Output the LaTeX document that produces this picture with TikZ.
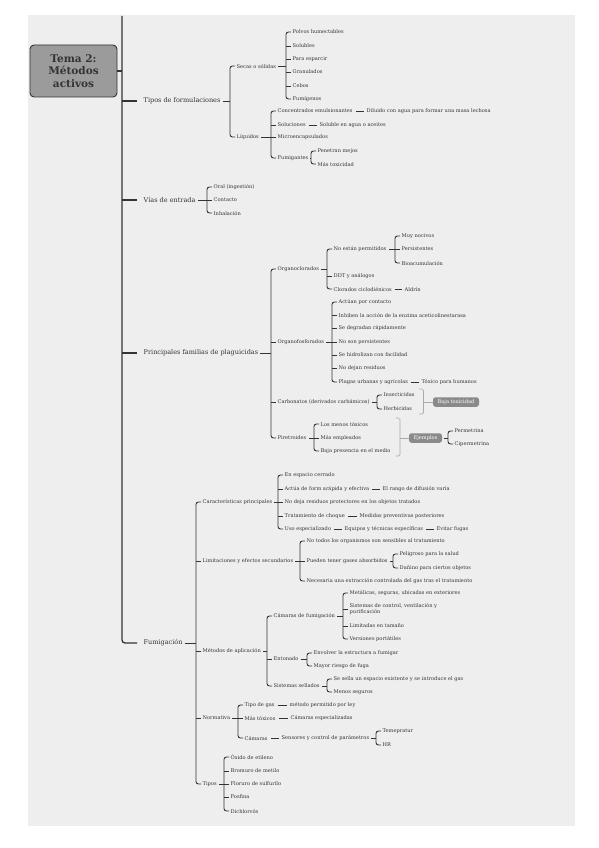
\documentclass[tikz,border=0pt]{standalone}
\usepackage{fontspec}
\setmainfont{DejaVu Serif}
\definecolor{bgc}{HTML}{EEEEEE}
\definecolor{tc}{HTML}{333333}
\definecolor{lc}{HTML}{333333}
\definecolor{sg}{HTML}{AAAAAA}
\definecolor{bx}{HTML}{8A8A8A}
\definecolor{tf}{HTML}{9B9B9B}
\newcommand\brk[3]{%
  \draw[br] ([xshift=-1pt]#2.west) -- ++(-5pt,0) coordinate (#1-b) |- ([xshift=-1pt]#3.west);
  \draw[br] ([xshift=1.5pt]#1.east) -- (#1.east -| #1-b);}
\newcommand\tk[1]{\draw[br] ([xshift=-1pt]#1.west) -- ++(-5pt,0);}
\newcommand\lnk[2]{\draw[br] ([xshift=2.5pt]#1.east) -- ([xshift=-2.5pt]#2.west);}
\begin{document}
\begin{tikzpicture}[x=1pt,y=-1pt,
  txt/.style={anchor=west, inner sep=0.5pt, text=tc, font=\fontsize{5.1}{6}\selectfont},
  mtxt/.style={anchor=west, inner sep=0.5pt, text=tc, font=\fontsize{6.5}{7.5}\selectfont},
  br/.style={draw=lc, line width=0.9pt, rounded corners=2.5pt},
  mainln/.style={draw=lc, line width=1.3pt, rounded corners=3pt},
  sbr/.style={draw=sg, line width=0.7pt, rounded corners=1.5pt},
  sbox/.style={fill=bx, text=white, rounded corners=2.5pt, inner sep=0pt, minimum height=9.5pt, font=\fontsize{5.1}{6}\selectfont},
  titlebox/.style={draw=lc, fill=tf, line width=0.9pt, rounded corners=4pt, minimum width=87pt, minimum height=52pt, align=center, text=tc, font=\fontsize{10.5}{12.5}\selectfont\bfseries}]
\useasboundingbox (0,0) rectangle (599,848);
\fill[white] (0,0) rectangle (599,848);
\fill[bgc] (28,15) rectangle (575,826);

% title and main branches
\node[titlebox] (t) at (73.5,71) {Tema 2:\\Métodos\\activos};
\coordinate (sp) at (122,16);
\node[mtxt] (m1) at (143,101) {Tipos de formulaciones};
\node[mtxt] (m2) at (143,200) {Vías de entrada};
\node[mtxt] (m3) at (143,353) {Principales familias de plaguicidas};
\node[mtxt] (m4) at (143,643) {Fumigación};
\draw[mainln] (sp) |- ([xshift=-6pt]m4.west);
\draw[mainln] (m1.west -| sp) -- ([xshift=-6pt]m1.west);
\draw[mainln] (m2.west -| sp) -- ([xshift=-6pt]m2.west);
\draw[mainln] (m3.west -| sp) -- ([xshift=-6pt]m3.west);
\draw[mainln] (t.east) -- (t.east -| sp);

% Tipos de formulaciones
\node[txt] (a1) at (236,66) {Secas o sólidas};
\node[txt] (a2) at (236,137) {Líquidos};
\node[txt] (a11) at (292,32) {Polvos humectables};
\node[txt] (a12) at (292,46) {Solubles};
\node[txt] (a13) at (292,59) {Para esparcir};
\node[txt] (a14) at (292,72) {Granulados};
\node[txt] (a15) at (292,86) {Cebos};
\node[txt] (a16) at (292,99) {Fumígenos};
\node[txt] (a21) at (277,111) {Concentrados emulsionantes};
\node[txt] (a21x) at (366,111) {Diluido con agua para formar una masa lechosa};
\node[txt] (a22) at (277,125) {Soluciones};
\node[txt] (a22x) at (319,125) {Soluble en agua o aceites};
\node[txt] (a23) at (277,137) {Microencapsulados};
\node[txt] (a24) at (277,158) {Fumigantes};
\node[txt] (a241) at (317,151) {Penetran mejos};
\node[txt] (a242) at (317,164) {Más toxicidad};
\brk{m1}{a1}{a2}
\brk{a1}{a11}{a16}\tk{a12}\tk{a13}\tk{a14}\tk{a15}
\brk{a2}{a21}{a24}\tk{a22}\tk{a23}
\lnk{a21}{a21x}\lnk{a22}{a22x}
\brk{a24}{a241}{a242}

% Vias de entrada
\node[txt] (b1) at (213,187) {Oral (ingestión)};
\node[txt] (b2) at (213,200) {Contacto};
\node[txt] (b3) at (213,213) {Inhalación};
\brk{m2}{b1}{b3}\tk{b2}

% Principales familias
\node[txt] (c1) at (277,269) {Organoclorados};
\node[txt] (c2) at (277,342) {Organofosforados};
\node[txt] (c3) at (277,402) {Carbonatos (derivados carbámicos)};
\node[txt] (c4) at (277,438) {Piretroides};
\node[txt] (c11) at (333,249) {No están permitidos};
\node[txt] (c12) at (333,276) {DDT y análogos};
\node[txt] (c13) at (333,289) {Clorados ciclodiénicos};
\node[txt] (c13x) at (404,289) {Aldrín};
\node[txt] (c111) at (401,236) {Muy nocivos};
\node[txt] (c112) at (401,249) {Persistentes};
\node[txt] (c113) at (401,263) {Bioacumulación};
\node[txt] (c21) at (338,302) {Actúan por contacto};
\node[txt] (c22) at (338,315) {Inhiben la acción de la enzima aceticolinestarasa};
\node[txt] (c23) at (338,328) {Se degradan rápidamente};
\node[txt] (c24) at (338,342) {No son persistentes};
\node[txt] (c25) at (338,355) {Se hidrolizan con facilidad};
\node[txt] (c26) at (338,368) {No dejan residuos};
\node[txt] (c27) at (338,382) {Plagas urbanas y agrícolas};
\node[txt] (c27x) at (421,382) {Tóxico para humanos};
\node[txt] (c31) at (383,395) {Insecticidas};
\node[txt] (c32) at (383,409) {Herbicidas};
\node[sbox, minimum width=46pt] (bt) at (456,402) {Baja toxicidad};
\node[txt] (c41) at (320,424) {Los menos tóxicos};
\node[txt] (c42) at (320,438) {Más empleados};
\node[txt] (c43) at (320,451) {Baja presencia en el medio};
\node[sbox, minimum width=33pt] (ej) at (425.5,438) {Ejemplos};
\node[txt] (p1) at (454,431) {Permetrina};
\node[txt] (p2) at (454,444) {Cipermetrina};
\brk{m3}{c1}{c4}\tk{c2}\tk{c3}
\brk{c1}{c11}{c13}\tk{c12}
\brk{c11}{c111}{c113}\tk{c112}
\lnk{c13}{c13x}
\brk{c2}{c21}{c27}\tk{c22}\tk{c23}\tk{c24}\tk{c25}\tk{c26}
\lnk{c27}{c27x}
\brk{c3}{c31}{c32}
\brk{c4}{c41}{c43}\tk{c42}
\brk{ej}{p1}{p2}
\coordinate (s1t) at (419,389); \coordinate (s1b) at (419,414);
\draw[sbr] (s1t) -- ++(4.5,0) coordinate (s1x) -- (s1x |- s1b) -- (s1b);
\draw[sbr] (bt.west -| s1x) -- (bt.west);
\coordinate (s2t) at (395.5,418); \coordinate (s2b) at (395.5,456);
\draw[sbr] (s2t) -- ++(4.5,0) coordinate (s2x) -- (s2x |- s2b) -- (s2b);
\draw[sbr] (ej.west -| s2x) -- (ej.west);

% Fumigacion
\node[txt] (d1) at (202,502) {Características principales};
\node[txt] (d2) at (202,561) {Limitaciones y efectos secundarios};
\node[txt] (d3) at (202,651) {Métodos de aplicación};
\node[txt] (d4) at (202,718) {Normativa};
\node[txt] (d5) at (202,784) {Tipos};
\node[txt] (d11) at (284,475) {En espacio cerrado};
\node[txt] (d12) at (284,489) {Actúa de form arápida y efectiva};
\node[txt] (d12x) at (382,489) {El rango de difusión varía};
\node[txt] (d13) at (284,502) {No deja residuos protectores en los objetos tratados};
\node[txt] (d14) at (284,516) {Tratamiento de choque};
\node[txt] (d14x) at (359,516) {Medidas preventivas posteriores};
\node[txt] (d15) at (284,529) {Uso especializado};
\node[txt] (d15x) at (344,529) {Equipos y técnicas específicas};
\node[txt] (d15y) at (436,529) {Evitar fugas};
\node[txt] (d21) at (306,541) {No todos los organismos son sensibles al tratamiento};
\node[txt] (d22) at (306,561) {Pueden tener gases absorbidos};
\node[txt] (d221) at (399,554) {Peligroso para la salud};
\node[txt] (d222) at (399,568) {Dañino para ciertos objetos};
\node[txt] (d23) at (306,581) {Necesaria una extracción controlada del gas tras el tratamiento};
\node[txt] (d31) at (273,616) {Cámaras de fumigación};
\node[txt] (d32) at (273,659) {Entonado};
\node[txt] (d33) at (273,686) {Sistemas sellados};
\node[txt] (d311) at (349,593) {Metálicas, seguras, ubicadas en exteriores};
\node[txt, align=left, font=\fontsize{5.1}{5.6}\selectfont] (d312) at (349,609) {Sistemas de control, ventilación y\\purificación};
\node[txt] (d313) at (349,626) {Limitadas en tamaño};
\node[txt] (d314) at (349,639) {Versiones portátiles};
\node[txt] (d321) at (313,653) {Envolver la estructura a fumigar};
\node[txt] (d322) at (313,666) {Mayor riesgo de fuga};
\node[txt] (d331) at (333,679) {Se sella un espacio existente y se introduce el gas};
\node[txt] (d332) at (333,692) {Menos seguros};
\node[txt] (d41) at (244,705) {Tipo de gas};
\node[txt] (d41x) at (289,705) {método permitido por ley};
\node[txt] (d42) at (244,718) {Más tóxicos};
\node[txt] (d42x) at (290,718) {Cámaras especializadas};
\node[txt] (d43) at (244,738) {Cámaras};
\node[txt] (d43x) at (281,738) {Sensores y control de parámetros};
\node[txt] (d431) at (382,731) {Temepratur};
\node[txt] (d432) at (382,745) {HR};
\node[txt] (d51) at (230,757) {Óxido de etileno};
\node[txt] (d52) at (230,771) {Bromuro de metilo};
\node[txt] (d53) at (230,784) {Floruro de sulfurilo};
\node[txt] (d54) at (230,797) {Fosfina};
\node[txt] (d55) at (230,811) {Dichlorvós};
\brk{m4}{d1}{d5}\tk{d2}\tk{d3}\tk{d4}
\brk{d1}{d11}{d15}\tk{d12}\tk{d13}\tk{d14}
\lnk{d12}{d12x}\lnk{d14}{d14x}\lnk{d15}{d15x}\lnk{d15x}{d15y}
\brk{d2}{d21}{d23}\tk{d22}
\brk{d22}{d221}{d222}
\brk{d3}{d31}{d33}\tk{d32}
\brk{d31}{d311}{d314}\tk{d312}\tk{d313}
\brk{d32}{d321}{d322}
\brk{d33}{d331}{d332}
\brk{d4}{d41}{d43}\tk{d42}
\lnk{d41}{d41x}\lnk{d42}{d42x}\lnk{d43}{d43x}
\brk{d43x}{d431}{d432}
\brk{d5}{d51}{d55}\tk{d52}\tk{d53}\tk{d54}
\end{tikzpicture}
\end{document}
